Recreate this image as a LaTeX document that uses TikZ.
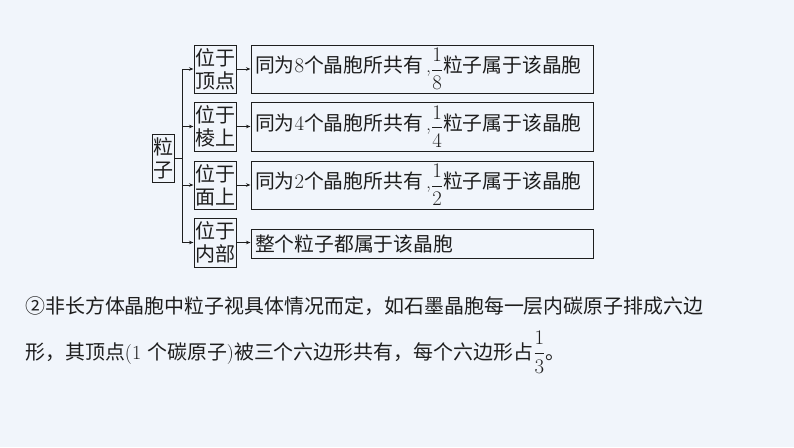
\documentclass[tikz,border=0pt]{standalone}
\usepackage{fontspec}
\usepackage{amsmath}
\newfontfamily\cjk{Noto Sans CJK SC}
\usetikzlibrary{arrows.meta}
\definecolor{bgc}{RGB}{241,245,251}
\definecolor{ink}{RGB}{30,30,30}
\newcommand{\fr}[2]{\raisebox{-3pt}{$\dfrac{#1}{#2}$}}
\begin{document}
\begin{tikzpicture}[x=1pt,y=-1pt,
  box/.style={draw=ink,line width=1pt,inner sep=0pt,align=center,font=\cjk\fontsize{20}{23}\selectfont,text=ink},
  wide/.style={box,minimum width=342pt,text width=334pt,align=left,font=\cjk\fontsize{19.8}{23}\selectfont},
  conn/.style={draw=ink,line width=0.8pt},
  arr/.style={conn,-{Stealth[length=4.5pt,width=3.5pt]}},
  para/.style={anchor=base west,inner sep=0pt,font=\cjk\fontsize{19.95}{24}\selectfont,text=ink}]
\fill[bgc] (0,0) rectangle (794,447);
\useasboundingbox (0,0) rectangle (794,447);
\node[box,minimum width=22pt,minimum height=48pt] (lz) at (163,158) {粒\\子};
\node[box,minimum width=42pt,minimum height=48pt] (s1) at (215,69) {位于\\顶点};
\node[box,minimum width=42pt,minimum height=49pt] (s2) at (215,126.5) {位于\\棱上};
\node[box,minimum width=42pt,minimum height=48pt] (s3) at (215,185) {位于\\面上};
\node[box,minimum width=42pt,minimum height=49pt] (s4) at (215,242.5) {位于\\内部};
\node[wide,minimum height=48pt] (b1) at (422,69) {同为$8$个晶胞所共有{\rmfamily\,,}\fr{1}{8}粒子属于该晶胞};
\node[wide,minimum height=49pt] (b2) at (422,126.5) {同为$4$个晶胞所共有{\rmfamily\,,}\fr{1}{4}粒子属于该晶胞};
\node[wide,minimum height=48pt] (b3) at (422,185) {同为$2$个晶胞所共有{\rmfamily\,,}\fr{1}{2}粒子属于该晶胞};
\node[wide,minimum height=29pt] (b4) at (422,243.5) {整个粒子都属于该晶胞};
\coordinate (tr) at (182,0);
\draw[conn] (lz.east) -- (lz.east -| tr);
\draw[conn] (s1.west -| tr) -- (s4.west -| tr);
\foreach \i in {1,2,3,4}{
  \draw[arr] (s\i.west -| tr) -- (s\i.west);
  \draw[arr] (s\i.east) -- (s\i.east -| b\i.west);
}
\node[para] (p1) at (25,313) {②非长方体晶胞中粒子视具体情况而定，如石墨晶胞每一层内碳原子排成六边};
\node[para] (p2) at (25,359) {形，其顶点{\rmfamily(1 }个碳原子{\rmfamily)}被三个六边形共有，每个六边形占$\dfrac{1}{3}$。};
\end{tikzpicture}
\end{document}
